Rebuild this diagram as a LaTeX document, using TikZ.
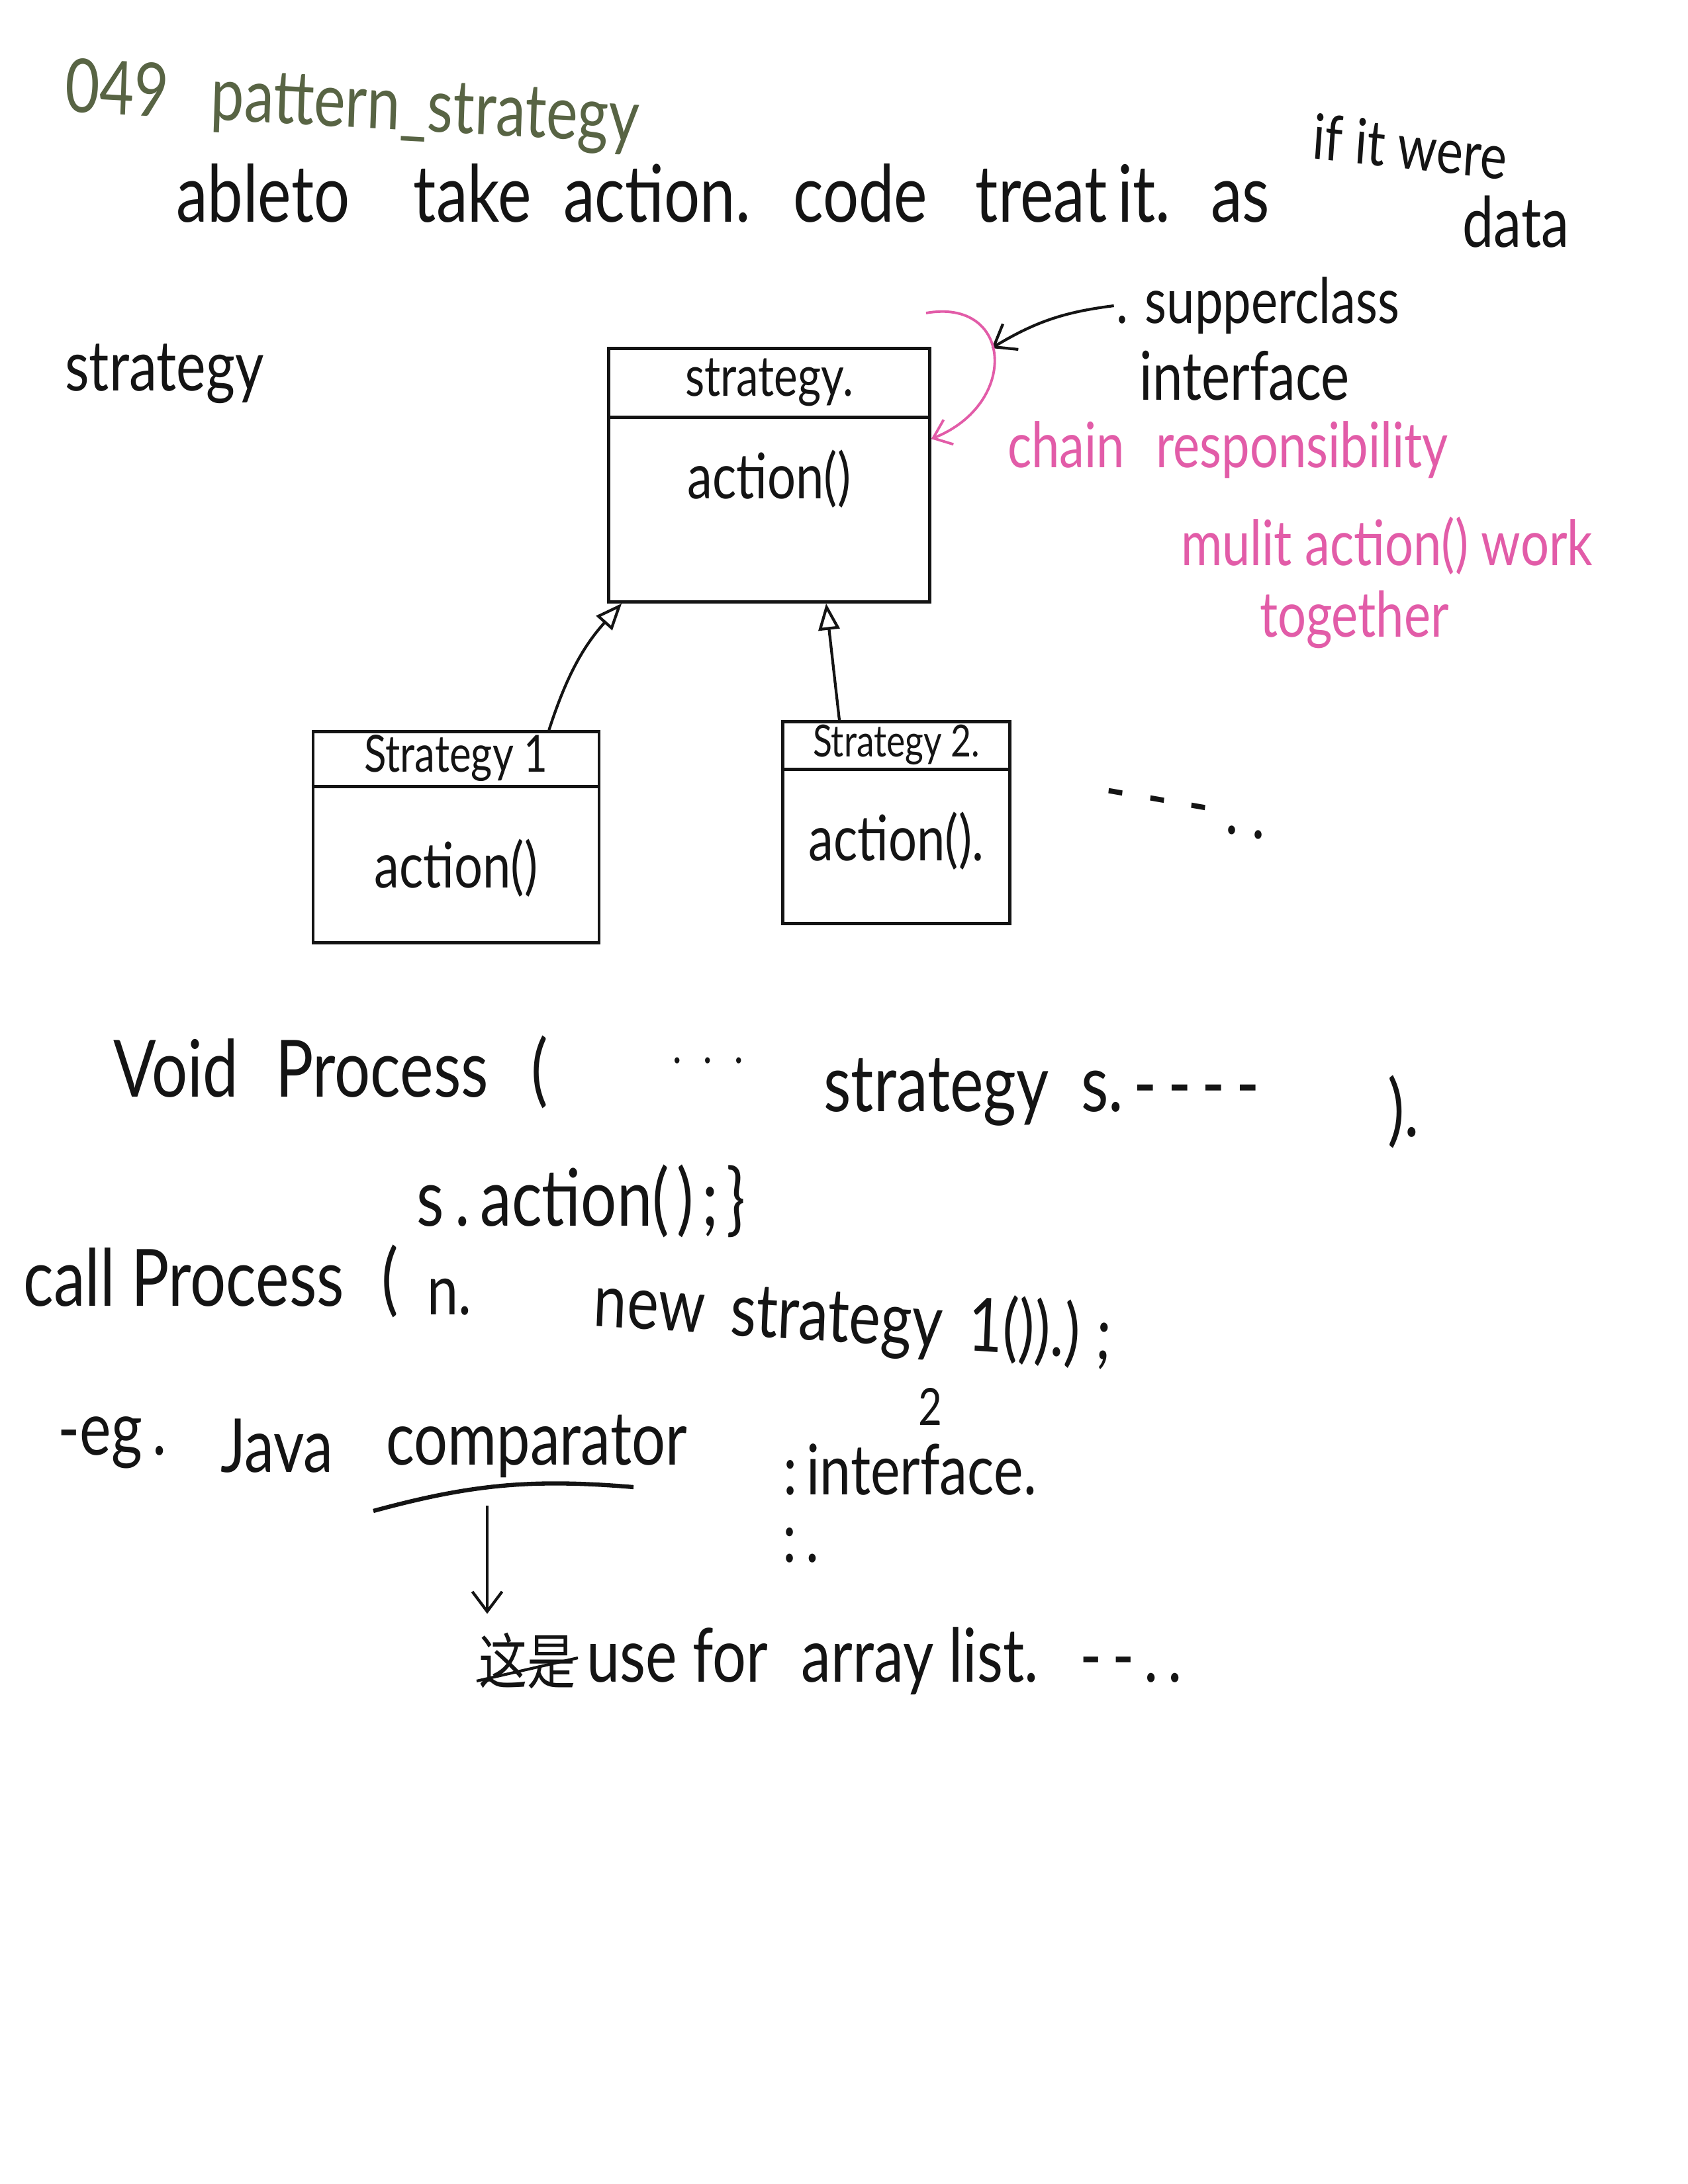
\documentclass[tikz,border=0pt]{standalone}
\usepackage{fontspec}
\setmainfont{Lato}
\newfontfamily\cjk{Noto Sans CJK SC}
\usepackage{xcolor}
\usetikzlibrary{positioning, calc, arrows.meta}
\definecolor{penGreen}{RGB}{88,100,68}
\definecolor{penPink}{RGB}{226,92,168}
\definecolor{penInk}{RGB}{20,20,20}
\tikzset{
    hand/.style={
        font=\fontsize{30}{34}\selectfont, text=penInk, inner sep=1pt, xscale=0.8
    },
    pinknote/.style={
        hand, text=penPink, font=\fontsize{27}{30}\selectfont
    },
    classbox/.style={
        draw=penInk, line width=1.3pt, fill=none, inner sep=0pt
    },
    classname/.style={
        hand, font=\fontsize{22}{26}\selectfont, anchor=north
    },
    method/.style={
        hand, font=\fontsize{27}{30}\selectfont
    },
    inherit/.style={
        -{Triangle[open, length=0.4cm, width=0.32cm]}, line width=1.2pt, penInk
    },
    inkptr/.style={
        -{Straight Barb[length=0.3cm, width=0.45cm]}, line width=1.2pt, penInk
    },
    pinkptr/.style={
        -{Straight Barb[length=0.25cm, width=0.4cm]}, line width=1.1pt, penPink
    }
}

\begin{document}
\begin{tikzpicture}
    \useasboundingbox[fill=white] (0,0) rectangle (25.5,-33);

    % 1. TITLE AND FIRST LINES
    \node[hand, text=penGreen, anchor=west, rotate=-2.5, font=\fontsize{32}{36}\selectfont] (title) at (0.95,-1.38) {049\hspace{0.8cm}pattern\_strategy};
    \node[hand, anchor=west, font=\fontsize{34}{38}\selectfont] (able) at (2.63,-2.92) {ableto\hspace{0.9cm} take\hspace{0.3cm} action.\hspace{0.4cm} code\hspace{0.6cm} treat\,it.\hspace{0.35cm} as};
    \node[hand, anchor=west, rotate=-5, font=\fontsize{27}{30}\selectfont] (ifit) at (19.8,-2.05) {if it were};
    \node[hand] (data) at (22.9,-3.35) {data};
    \node[hand, anchor=west] (side) at (0.95,-5.65) {strategy};

    % 2. CLASS BOXES
    \node[classbox, minimum width=4.85cm, minimum height=3.83cm] (base) at (11.62,-7.18) {};
    \node[classname, minimum height=1.05cm, font=\fontsize{24}{28}\selectfont] (basename) at (base.north) {strategy.};
    \draw[line width=1.3pt, penInk] (basename.south -| base.west) -- (basename.south -| base.east);
    \node[method, below=0.45cm of basename] (baseact) {action()};

    \node[classbox, minimum width=4.32cm, minimum height=3.19cm] (s1) at (6.89,-12.65) {};
    \node[classname, minimum height=0.84cm] (s1name) at (s1.north) {Strategy 1};
    \draw[line width=1.3pt, penInk] (s1name.south -| s1.west) -- (s1name.south -| s1.east);
    \node[method, below=0.75cm of s1name] (s1act) {action()};

    \node[classbox, minimum width=3.43cm, minimum height=3.05cm] (s2) at (13.54,-12.43) {};
    \node[classname, minimum height=0.73cm, font=\fontsize{19}{22}\selectfont] (s2name) at (s2.north) {Strategy 2.};
    \draw[line width=1.3pt, penInk] (s2name.south -| s2.west) -- (s2name.south -| s2.east);
    \node[method, below=0.6cm of s2name] (s2act) {action().};

    \node[hand, rotate=-8] (more) at (17.9,-12.3) {-\hspace{0.4cm}-\hspace{0.4cm}-\hspace{0.35cm}.\hspace{0.25cm}.};

    % 3. INHERITANCE
    \draw[inherit] ([xshift=-0.78cm]s1.north east) to[bend left=12] ([xshift=0.22cm]base.south west);
    \draw[inherit] ([xshift=-0.86cm]s2.north) -- ([xshift=0.86cm]base.south);

    % 4. NOTES ON THE RIGHT
    \node[hand, font=\fontsize{27}{30}\selectfont] (supper) at (19.0,-4.62) {. supperclass};
    \node[hand, font=\fontsize{29}{32}\selectfont] (iface) at (18.8,-5.68) {interface};
    \coordinate (brk) at (13.99,-4.73);
    \coordinate (brktip) at (14.98,-5.26);
    \draw[inkptr] (supper.west) to[bend right=12] (brktip);
    \draw[pinkptr] (brk) .. controls (15.3,-4.5) and (15.4,-6.1) .. ([yshift=-1.39cm]base.north east);
    \node[pinknote] (chain) at (18.55,-6.8) {chain\hspace{0.35cm} responsibility};
    \node[pinknote] (mulit) at (20.95,-8.25) {mulit action() work};
    \node[pinknote] (togeth) at (20.46,-9.36) {together};

    % 5. CODE LINES
    \node[hand, anchor=west, font=\fontsize{34}{38}\selectfont] (void) at (1.68,-16.2) {Void\hspace{0.4cm} Process\hspace{0.5cm} (};
    \node[hand, anchor=west, font=\fontsize{34}{38}\selectfont] (vdots) at (10.1,-16.05) {$\cdot\,\cdot\,\cdot$};
    \node[hand, anchor=west, font=\fontsize{34}{38}\selectfont] (vstrat) at (12.41,-16.5) {strategy\hspace{0.3cm} s.\,-\,-\,-\,-};
    \node[hand, anchor=west, font=\fontsize{34}{38}\selectfont] (vclose) at (20.93,-16.8) {).};
    \node[hand, font=\fontsize{34}{38}\selectfont] (sact) at (8.78,-18.15) {s\,.\hspace{0.2cm}action(\hspace{0.15cm})\hspace{0.15cm};\hspace{0.15cm}\}};
    \node[hand, anchor=west, font=\fontsize{34}{38}\selectfont] (call) at (0.32,-19.36) {call Process\hspace{0.4cm} (};
    \node[hand, anchor=west] (nn) at (6.42,-19.6) {n.};
    \node[hand, anchor=west, rotate=-3, font=\fontsize{32}{36}\selectfont] (newst) at (8.94,-19.7) {new\hspace{0.2cm} strategy\hspace{0.2cm} 1()).)\hspace{0.3cm};};

    % 6. JAVA EXAMPLE
    \node[hand, font=\fontsize{22}{26}\selectfont] (two) at (14.05,-21.25) {2};
    \node[hand, anchor=west, font=\fontsize{32}{36}\selectfont] (eg) at (0.84,-21.8) {-eg\,.};
    \node[hand, anchor=west, font=\fontsize{32}{36}\selectfont] (java) at (3.3,-21.85) {Java};
    \node[hand, anchor=west, font=\fontsize{32}{36}\selectfont] (comp) at (5.8,-21.85) {comparator};
    \node[hand, anchor=west] (iface2) at (11.8,-22.2) {:\,interface.};
    \node[hand] (colon) at (12.1,-23.35) {:\,.};
    \coordinate (ulA) at (5.64,-22.83);
    \coordinate (ulB) at (9.57,-22.47);
    \coordinate (ulM) at (7.36,-22.75);
    \draw[line width=1.8pt, penInk] (ulA) to[bend left=10] (ulB);

    \node[hand, anchor=west, font=\fontsize{26}{30}\selectfont] (zhe) at (7.2,-25.1) {\cjk 这是};
    \draw[line width=1.2pt, penInk] ([yshift=-0.3cm]zhe.west) -- ([yshift=0.05cm]zhe.east);
    \node[hand, right=0.1cm of zhe, font=\fontsize{32}{36}\selectfont] (uselist) {use for\hspace{0.35cm} array list.\hspace{0.4cm} -\,-\,.\,.};
    \draw[inkptr] (ulM) -- ([yshift=0.25cm]ulM |- zhe.north);
\end{tikzpicture}
\end{document}
